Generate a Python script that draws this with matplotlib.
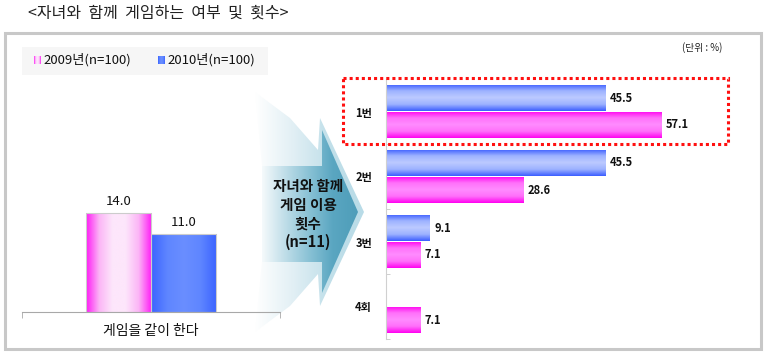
import numpy as np
import matplotlib
matplotlib.use("Agg")
import matplotlib.pyplot as plt
from matplotlib.patches import Rectangle, Polygon
from matplotlib.colors import LinearSegmentedColormap

plt.rcParams['font.family'] = ['Noto Sans CJK KR', 'DejaVu Sans']

# ---------------- data ----------------
title = "<자녀와  함께  게임하는  여부  및  횟수>"
legend_labels = ["2009년(n=100)", "2010년(n=100)"]
left_category = ["게임을 같이 한다"]
left_2009 = [14.0]
left_2010 = [11.0]

right_categories = ["1번", "2번", "3번", "4회"]
right_blue = [45.5, 45.5, 9.1, 0.0]
right_magenta = [57.1, 28.6, 7.1, 7.1]
arrow_text = "자녀와 함께\n게임 이용\n횟수\n(n=11)"
unit_text = "(단위 : %)"

W, H = 767, 354
fig = plt.figure(figsize=(W / 100, H / 100), dpi=100)

def fx(x):
    return x / W

def fy(y):
    return 1 - y / H

# background overlay in pixel coords
bg = fig.add_axes([0, 0, 1, 1], zorder=0)
bg.set_xlim(0, W)
bg.set_ylim(H, 0)
bg.axis('off')

# outer box
bg.add_patch(Rectangle((5, 33), 756, 316, fill=False, ec='#c8c8c8', lw=2.2))
# legend background
bg.add_patch(Rectangle((22, 47), 246, 28, fc='#f6f6f6', ec='none'))

bg.text(28, 13, title, fontsize=11.5, va='center', ha='left', color='#222222')
bg.text(722, 48, unit_text, fontsize=7, va='center', ha='right', color='#222222')

# gradient colormaps
mag_h = LinearSegmentedColormap.from_list('magh', ['#ff1af5', '#fbb5f6', '#fde6fb', '#fde6fb', '#fbb5f6', '#ff1af5'])
blue_h = LinearSegmentedColormap.from_list('blueh', ['#3b63ff', '#5f86ff', '#6a8eff', '#5f86ff', '#3b63ff'])
mag_v = LinearSegmentedColormap.from_list('magv', ['#ff00f0', '#ff70fa', '#ff8cff', '#ff70fa', '#ff00f0'])
blue_v = LinearSegmentedColormap.from_list('bluev', ['#3a5cff', '#9db2ff', '#bccaff', '#9db2ff', '#3a5cff'])

grad_h = np.linspace(0, 1, 256).reshape(1, -1)
grad_v = np.linspace(0, 1, 256).reshape(-1, 1)

# legend swatches
for (x0, cmap), lab in zip([(34, mag_h), (158, blue_h)], legend_labels):
    bg.imshow(grad_h, cmap=cmap, extent=[x0, x0 + 7, 64, 56], aspect='auto', zorder=2)
    bg.text(x0 + 9, 60, lab, fontsize=9.5, va='center', ha='left', color='#111111')
bg.set_xlim(0, W)
bg.set_ylim(H, 0)

# arrow: halo + body with horizontal gradient
halo = Polygon([(255, 92), (290, 118), (318, 150), (320, 118), (364, 212), (320, 306),
                (318, 274), (290, 306), (255, 332), (262, 262), (262, 165)], closed=True,
               fc='none', ec='none')
bg.add_patch(halo)
halo_cmap = LinearSegmentedColormap.from_list('halo', ['#ffffff', '#e3f0f5', '#c2e0ea', '#b8dbe7'])
imh = bg.imshow(grad_h, cmap=halo_cmap, extent=[255, 364, 332, 92], aspect='auto', zorder=1)
imh.set_clip_path(halo)

body = Polygon([(262, 166), (322, 166), (322, 130), (358, 212), (322, 293), (322, 262), (262, 262)],
               closed=True, fc='none', ec='none')
bg.add_patch(body)
body_cmap = LinearSegmentedColormap.from_list('body', ['#ffffff', '#c4e0ea', '#8cc3d6', '#5aa6c1', '#4e9db9'])
imb = bg.imshow(grad_h, cmap=body_cmap, extent=[258, 358, 293, 130], aspect='auto', zorder=1.5)
imb.set_clip_path(body)
bg.text(308, 214, arrow_text, fontsize=10.5, fontweight='bold', ha='center', va='center',
        linespacing=1.2, color='#111111', zorder=3)
bg.set_xlim(0, W)
bg.set_ylim(H, 0)

# ---------------- left chart ----------------
axL = fig.add_axes([fx(22), fy(312), fx(280) - fx(22), fy(100) - fy(312)], zorder=2)
axL.patch.set_alpha(0)
px_per_unit = 7.1
axL.set_ylim(0, 212 / px_per_unit)
axL.set_xlim(-0.5, 0.5)
bw = 65 / 258
xpos = np.arange(len(left_category))
bars09 = axL.bar(xpos - bw / 2, left_2009, width=bw, color='none', ec='#cccccc', lw=0.8, zorder=3)
bars10 = axL.bar(xpos + bw / 2, left_2010, width=bw, color='none', ec='#cccccc', lw=0.8, zorder=3)
for bars, cmap in [(bars09, mag_h), (bars10, blue_h)]:
    for b in bars:
        x0, y0 = b.get_x(), b.get_y()
        im = axL.imshow(grad_h, cmap=cmap, extent=[x0, x0 + b.get_width(), y0, y0 + b.get_height()],
                        aspect='auto', zorder=2)
        im.set_clip_path(b)
        axL.annotate(f"{b.get_height():.1f}", (x0 + b.get_width() / 2, b.get_height()),
                     xytext=(0, 3.5), textcoords='offset points', ha='center', va='bottom',
                     fontsize=9.5, color='#111111')
axL.set_xlim(-0.5, 0.5)
axL.set_ylim(0, 212 / px_per_unit)
for s in ['top', 'right', 'left']:
    axL.spines[s].set_visible(False)
axL.spines['bottom'].set_color('#a8a8a8')
axL.set_yticks([])
axL.set_xticks(xpos)
axL.set_xticklabels(left_category, fontsize=10, color='#111111')
axL.tick_params(axis='x', which='major', length=0, pad=9)
axL.set_xticks([-0.5, 0.5], minor=True)
axL.tick_params(axis='x', which='minor', length=4, color='#a8a8a8', direction='out')

# ---------------- right chart ----------------
axR = fig.add_axes([fx(386), fy(339), fx(740) - fx(386), fy(79) - fy(339)], zorder=2)
axR.patch.set_alpha(0)
bh = 27 / 65
ypos = np.arange(len(right_categories))
barsB = axR.barh(ypos - bh / 2, right_blue, height=bh, color='none', ec='none', zorder=3)
barsM = axR.barh(ypos + bh / 2, right_magenta, height=bh, color='none', ec='none', zorder=3)
for bars, cmap in [(barsB, blue_v), (barsM, mag_v)]:
    for b in bars:
        w = b.get_width()
        if w <= 0:
            continue
        x0, y0 = b.get_x(), b.get_y()
        im = axR.imshow(grad_v, cmap=cmap, extent=[x0, x0 + w, y0 + b.get_height(), y0],
                        aspect='auto', zorder=2)
        im.set_clip_path(b)
        axR.annotate(f"{w:.1f}", (w, y0 + b.get_height() / 2), xytext=(3, 0),
                     textcoords='offset points', ha='left', va='center',
                     fontsize=8, fontweight='bold', color='#111111')
axR.set_xlim(0, (740 - 386) / 4.82)
axR.set_ylim(3.5, -0.5)
for s in ['top', 'right', 'bottom']:
    axR.spines[s].set_visible(False)
axR.spines['left'].set_color('#d0d0d0')
axR.set_xticks([])
axR.set_yticks(ypos)
axR.set_yticklabels(right_categories, fontsize=8, fontweight='bold', color='#111111')
axR.tick_params(axis='y', which='major', length=0, pad=10)
axR.set_yticks([0.5, 1.5, 2.5, 3.5], minor=True)
axR.tick_params(axis='y', which='minor', length=3, color='#c8c8c8', direction='in')

# ---------------- foreground: red dotted box ----------------
fg = fig.add_axes([0, 0, 1, 1], zorder=5)
fg.patch.set_alpha(0)
fg.set_xlim(0, W)
fg.set_ylim(H, 0)
fg.axis('off')
fg.add_patch(Rectangle((343, 78), 385, 66, fill=False, ec='#ff1010', lw=2.2, ls=(0, (1, 1))))

fig.savefig('out.png', dpi=100)
